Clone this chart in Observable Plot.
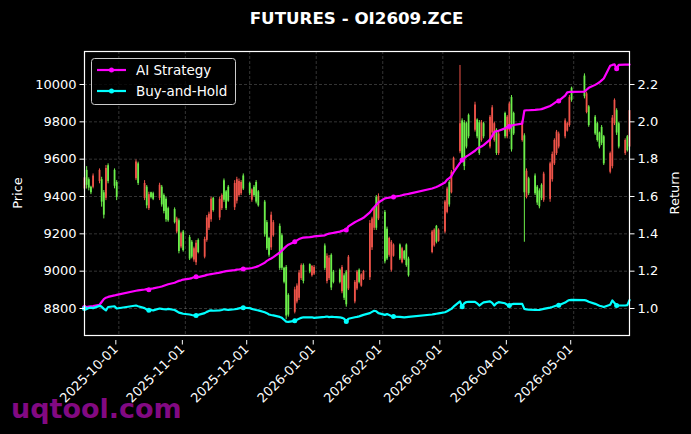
<!DOCTYPE html>
<html><head><meta charset="utf-8">
<script src="https://cdn.jsdelivr.net/npm/d3@7"></script>
<script src="https://cdn.jsdelivr.net/npm/@observablehq/plot@0.6"></script>
<style>
html,body{margin:0;padding:0;background:#000;}
#chart{width:691px;height:434px;overflow:hidden;}
</style></head><body><div id="chart"></div>
<script>
// ---- data ----
const tradingDays = {
  "2025-09": [15,16,17,18,19,22,23,24,25,26,29,30],
  "2025-10": [9,10,13,14,15,16,17,20,21,22,23,24,27,28,29,30,31],
  "2025-11": [3,4,5,6,7,10,11,12,13,14,17,18,19,20,21,24,25,26,27,28],
  "2025-12": [1,2,3,4,5,8,9,10,11,12,15,16,17,18,19,22,23,24,25,26,29,30,31],
  "2026-01": [5,6,7,8,9,12,13,14,15,16,19,20,21,22,23,26,27,28,29,30],
  "2026-02": [2,3,4,5,6,9,10,11,12,13,24,25,26,27],
  "2026-03": [2,3,4,5,6,9,10,11,12,13,16,17,18,19,20,23,24,25,26,27,30,31],
  "2026-04": [1,2,3,7,8,9,10,13,14,15,16,17,20,21,22,23,24,27,28,29,30],
  "2026-05": [6,7,8,11,12,13,14,15,18,19,20,21,22,25,26,27]
};
const open = [
  9440,9540,9490,9450,9450,9480,9490,9420,9390,9565,9540,9475,
  9495,9575,9390,9450,9335,9420,9415,9390,9450,9405,9385,9335,9330,9210,9270,9130,9210,
  9180,9155,9060,9045,9165,9075,9165,9230,9275,9390,9285,9335,9485,9425,9450,9340,9375,9405,9415,9510,
  9470,9380,9450,9475,9425,9370,9260,9175,9125,9190,9240,9190,9015,9020,8870,8780,8835,8855,8960,9030,9035,8975,8985,
  9135,8945,8960,9085,8995,9005,8890,8975,8995,8905,8835,8905,9005,8920,8955,8965,9125,9230,9395,9280,
  9315,9225,9085,9005,9080,9140,9045,9105,9140,9065,9100,9135,9240,9160,
  9210,9315,9475,9420,9545,9640,9805,9795,9790,9835,9755,9810,9795,9700,9790,9665,9740,9700,9755,9630,9845,9720,
  9755,9930,9845,9700,9725,9395,9495,9510,9450,9430,9460,9380,9385,9490,9575,9630,9665,9720,9750,9780,9980,
  10045,9850,9880,9825,9790,9740,9770,9720,9530,9560,9790,9860,9790,9630,9720,9665
];
const high = [
  9520,9560,9500,9455,9521,9548,9503,9432,9566,9575,9548,9485,
  9596,9584,9485,9459,9423,9423,9423,9471,9459,9414,9396,9343,9339,9289,9280,9209,9218,
  9191,9164,9129,9164,9173,9182,9298,9316,9396,9396,9396,9414,9494,9432,9459,9485,9503,9494,9485,9521,
  9476,9441,9459,9485,9432,9379,9271,9182,9316,9271,9253,9200,9021,9030,8879,8914,8932,9004,9039,9039,9039,9030,9030,
  9146,9093,9084,9093,9004,9012,9030,8986,9004,9084,8950,9004,9012,8986,9004,9271,9289,9343,9405,9414,
  9325,9236,9182,9164,9146,9146,9128,9111,9146,9075,9218,9227,9245,9227,
  9379,9450,9485,9539,9611,10102,9816,9807,9798,9842,9905,9816,9807,9807,9798,9834,9887,9798,9763,9745,9852,9834,
  9905,9941,9852,9807,9736,9548,9503,9521,9459,9441,9468,9530,9584,9638,9709,9754,9745,9816,9798,9941,9986,
  10057,9959,9887,9834,9798,9745,9780,9727,9638,9834,9923,9870,9798,9709,9727,9870
];
const low = [
  9420,9440,9430,9410,9441,9468,9343,9280,9378,9468,9441,9378,
  9485,9459,9378,9334,9325,9387,9378,9378,9343,9307,9262,9262,9253,9200,9093,9120,9102,
  9057,9066,9048,9030,9093,9066,9155,9218,9262,9316,9271,9325,9369,9325,9369,9325,9360,9396,9405,9432,
  9405,9369,9396,9360,9343,9182,9111,9075,9111,9182,9004,9004,8932,8740,8754,8771,8825,8843,8950,8932,8986,8968,8977,
  9004,8932,8950,8896,8932,8932,8879,8843,8807,8896,8825,8896,8932,8914,8950,8950,9111,9218,9218,9271,
  9039,9057,9075,8995,9075,9057,9039,9057,9021,8968,9093,9128,9146,9155,
  9200,9307,9343,9414,9539,9629,9584,9539,9655,9709,9745,9709,9620,9691,9709,9655,9727,9691,9620,9620,9709,9709,
  9745,9638,9727,9691,9155,9387,9405,9405,9352,9334,9378,9369,9369,9477,9566,9620,9655,9709,9745,9771,9905,
  9923,9843,9771,9727,9691,9655,9673,9566,9521,9548,9780,9727,9655,9620,9638,9655
];
const close = [
  9500,9460,9445,9420,9510,9540,9370,9300,9550,9480,9455,9395,
  9585,9470,9470,9350,9410,9395,9385,9460,9355,9320,9275,9270,9260,9280,9105,9200,9110,
  9065,9075,9120,9150,9100,9170,9285,9305,9385,9325,9385,9405,9380,9335,9375,9470,9490,9480,9475,9440,
  9415,9435,9405,9370,9350,9195,9120,9085,9300,9260,9015,9015,8940,8760,8765,8900,8920,8990,9030,8945,8995,9025,9020,
  9015,9080,9070,8910,8940,8940,9020,8855,8820,9075,8940,8995,8940,8980,8998,9255,9280,9335,9230,9400,
  9050,9065,9175,9155,9140,9065,9120,9065,9030,8975,9210,9220,9155,9220,
  9370,9440,9355,9530,9605,9790,9600,9560,9665,9720,9890,9720,9630,9795,9720,9825,9875,9790,9630,9735,9720,9825,
  9895,9650,9735,9800,9420,9535,9415,9415,9365,9345,9390,9520,9575,9625,9700,9745,9735,9805,9790,9930,9915,
  9935,9950,9780,9735,9700,9665,9685,9575,9630,9820,9915,9740,9665,9700,9645,9860
];
const aiStrategy = [
  1.005,1.008,1.010,1.012,1.013,1.020,1.035,1.050,1.058,1.062,1.070,1.073,
  1.095,1.097,1.102,1.104,1.100,1.106,1.108,1.115,1.118,1.122,1.126,1.130,1.138,1.143,1.148,1.151,1.155,
  1.160,1.163,1.167,1.170,1.168,1.176,1.180,1.182,1.184,1.186,1.192,1.195,1.198,1.200,1.202,1.206,1.208,1.209,1.211,1.212,
  1.215,1.217,1.220,1.223,1.227,1.245,1.255,1.262,1.268,1.275,1.300,1.310,1.322,1.333,1.342,1.358,1.365,1.372,1.376,1.380,1.382,1.384,1.386,
  1.392,1.398,1.401,1.403,1.405,1.412,1.416,1.420,1.421,1.440,1.462,1.468,1.474,1.480,1.486,1.515,1.530,1.542,1.556,1.568,
  1.590,1.592,1.594,1.596,1.598,1.604,1.607,1.610,1.612,1.614,1.643,1.647,1.651,1.656,
  1.675,1.690,1.698,1.710,1.730,1.780,1.795,1.805,1.815,1.822,1.845,1.856,1.862,1.868,1.875,1.905,1.925,1.945,1.950,1.952,1.965,1.972,
  1.975,1.980,1.983,1.990,2.060,2.062,2.062,2.064,2.065,2.066,2.068,2.072,2.085,2.092,2.100,2.108,2.112,2.140,2.158,2.160,2.160,
  2.162,2.172,2.182,2.198,2.205,2.212,2.222,2.232,2.300,2.305,2.308,2.285,2.305,2.307,2.307,2.307
];
const buyHold = [
  1.000,0.998,1.003,1.005,1.002,1.014,1.010,0.998,0.990,1.008,1.012,1.000,
  1.016,1.012,1.002,0.995,0.990,0.992,0.990,1.000,0.998,0.996,0.995,0.998,0.992,0.985,0.978,0.975,0.972,
  0.968,0.965,0.963,0.962,0.966,0.975,0.982,0.987,0.990,0.988,0.990,0.992,0.996,0.994,0.993,0.996,0.998,1.001,1.003,1.004,
  1.002,0.998,0.995,0.992,0.990,0.980,0.975,0.968,0.965,0.963,0.955,0.950,0.940,0.930,0.928,0.934,0.940,0.945,0.950,0.953,0.952,0.953,0.950,
  0.955,0.957,0.954,0.956,0.955,0.953,0.950,0.945,0.930,0.945,0.953,0.955,0.958,0.962,0.966,0.975,0.982,0.988,0.985,0.975,
  0.966,0.970,0.965,0.960,0.957,0.955,0.954,0.953,0.954,0.955,0.968,0.970,0.972,0.974,
  0.980,0.985,0.992,0.998,1.010,1.038,1.010,1.028,1.035,1.036,1.036,1.028,1.016,1.025,1.033,1.038,1.030,1.016,1.028,1.034,1.028,1.020,
  1.016,1.022,1.025,1.025,0.998,0.995,0.994,0.993,0.992,0.993,0.995,0.998,1.005,1.008,1.012,1.016,1.018,1.032,1.040,1.045,1.046,
  1.045,1.042,1.036,1.025,1.020,1.015,1.012,1.008,1.020,1.043,1.030,1.016,1.016,1.016,1.018,1.045
];
const priceTicks = [8800, 9000, 9200, 9400, 9600, 9800, 10000];
const returnTicks = [1.0, 1.2, 1.4, 1.6, 1.8, 2.0, 2.2];
const monthTicks = ["2025-10-01","2025-11-01","2025-12-01","2026-01-01","2026-02-01","2026-03-01","2026-04-01","2026-05-01"];
const seriesNames = ["AI Strategy", "Buy-and-Hold"];
const MARK_EVERY = 16;

// ---- build ----
const dates = Object.entries(tradingDays).flatMap(([ym, days]) =>
  days.map(d => new Date(`${ym}-${String(d).padStart(2, "0")}T00:00:00Z`)));
const candles = dates.map((date, i) => ({date, open: open[i], high: high[i], low: low[i], close: close[i]}));
const returns = dates.map((date, i) => ({date, i, ai: aiStrategy[i], bh: buyHold[i]}));
const markers = returns.filter(d => d.i % MARK_EVERY === 0);

const PRICE_DOMAIN = [8655.4, 10176.8];
const RETURN_DOMAIN = [0.8554, 2.3768];
const r2p = r => PRICE_DOMAIN[0] + (r - RETURN_DOMAIN[0]) * (PRICE_DOMAIN[1] - PRICE_DOMAIN[0]) / (RETURN_DOMAIN[1] - RETURN_DOMAIN[0]);
const p2r = p => RETURN_DOMAIN[0] + (p - PRICE_DOMAIN[0]) * (RETURN_DOMAIN[1] - RETURN_DOMAIN[0]) / (PRICE_DOMAIN[1] - PRICE_DOMAIN[0]);

const UP = "#ef5349", DOWN = "#6cee4a";
const AI_COLOR = "#ff00ff", BH_COLOR = "#00ffff";
const candleColor = d => d.close >= d.open ? UP : DOWN;
const monthDates = monthTicks.map(s => new Date(s + "T00:00:00Z"));
const gridStyle = {stroke: "#8a8a8a", strokeOpacity: 0.55, strokeWidth: 0.7, strokeDasharray: "3,2"};
const TICK_FONT = 13;

const svg = Plot.plot({
  width: 691, height: 434,
  marginTop: 51, marginLeft: 84, marginRight: 62, marginBottom: 99,
  style: {background: "#000", color: "#fff", fontFamily: "'DejaVu Sans', sans-serif", fontSize: "13px"},
  x: {type: "utc", domain: [new Date("2025-09-15T00:00:00Z"), new Date("2026-05-27T00:00:00Z")]},
  y: {domain: PRICE_DOMAIN},
  marks: [
    Plot.ruleY(priceTicks, gridStyle),
    Plot.ruleX(monthDates, gridStyle),
    Plot.ruleX(candles, {x: "date", y1: "low", y2: "high", stroke: candleColor, strokeWidth: 1}),
    Plot.ruleX(candles, {x: "date", y1: "open", y2: "close", stroke: candleColor, strokeWidth: 1.8}),
    Plot.line(returns, {x: "date", y: d => r2p(d.ai), stroke: AI_COLOR, strokeWidth: 2.2}),
    Plot.dot(markers, {x: "date", y: d => r2p(d.ai), fill: AI_COLOR, r: 2.5}),
    Plot.line(returns, {x: "date", y: d => r2p(d.bh), stroke: BH_COLOR, strokeWidth: 2.2}),
    Plot.dot(markers, {x: "date", y: d => r2p(d.bh), fill: BH_COLOR, r: 2.5}),
    Plot.frame({stroke: "#fff", strokeWidth: 1.2}),
    Plot.axisY(priceTicks, {anchor: "left", tickSize: 4.5, tickPadding: 3.5, fontSize: TICK_FONT, tickFormat: d => String(d), label: null}),
    Plot.axisY(returnTicks.map(r2p), {anchor: "right", tickSize: 4.5, tickPadding: 3.5, fontSize: TICK_FONT, tickFormat: p => p2r(p).toFixed(1), label: null}),
    Plot.axisX(monthDates, {anchor: "bottom", tickSize: 4.5, tickPadding: 2, fontSize: TICK_FONT, tickRotate: -45, dx: -3, dy: 5, tickFormat: d3.utcFormat("%Y-%m-%d"), label: null})
  ]
});

const s = d3.select(svg);
// make sure every tick label uses the intended size
s.selectAll('g[aria-label$="tick label"]').attr("font-size", TICK_FONT).selectAll("text").attr("font-size", TICK_FONT);
const font = "'DejaVu Sans', sans-serif";
s.append("text").attr("x", 356.5).attr("y", 24).attr("text-anchor", "middle")
  .attr("fill", "#fff").style("font", `bold 16.7px ${font}`).text("FUTURES - OI2609.ZCE");
s.append("text").attr("transform", "translate(21.5,193) rotate(-90)").attr("text-anchor", "middle")
  .attr("fill", "#fff").style("font", `13px ${font}`).text("Price");
s.append("text").attr("transform", "translate(679,193) rotate(-90)").attr("text-anchor", "middle")
  .attr("fill", "#fff").style("font", `13px ${font}`).text("Return");

// legend
const lg = s.append("g").attr("text-anchor", "start");
lg.append("rect").attr("x", 91.5).attr("y", 58.5).attr("width", 144).attr("height", 46).attr("rx", 3)
  .attr("fill", "#000").attr("fill-opacity", 0.8).attr("stroke", "#cccccc").attr("stroke-width", 1);
[[AI_COLOR, 70], [BH_COLOR, 91]].forEach(([c, y], k) => {
  lg.append("line").attr("x1", 97).attr("x2", 126).attr("y1", y).attr("y2", y).attr("stroke", c).attr("stroke-width", 2.2);
  lg.append("circle").attr("cx", 111.5).attr("cy", y).attr("r", 2.5).attr("fill", c);
  lg.append("text").attr("x", 136).attr("y", y + 5).attr("text-anchor", "start").attr("fill", "#fff")
    .style("font", `13.5px ${font}`).text(seriesNames[k]);
});

// watermark
s.append("text").attr("x", 11).attr("y", 418).attr("text-anchor", "start").attr("fill", "#8b0a8b").attr("fill-opacity", 0.95)
  .style("font", `bold 27px ${font}`).text("uqtool.com");

document.getElementById("chart").appendChild(svg);
</script>
</body></html>
